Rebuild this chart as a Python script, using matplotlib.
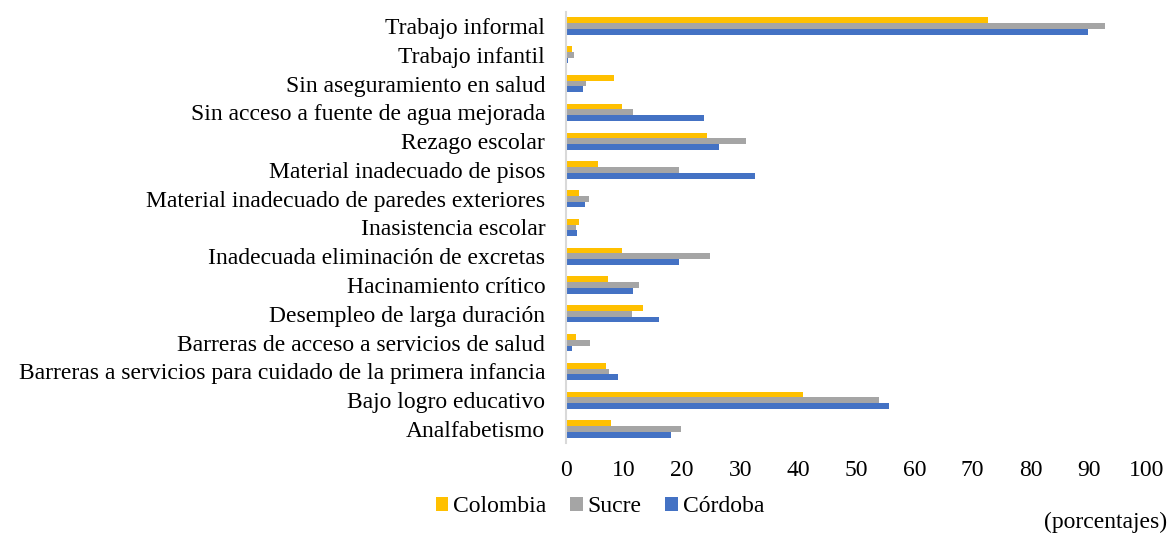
import matplotlib.pyplot as plt
import numpy as np

plt.rcParams['font.family'] = ['Liberation Serif', 'DejaVu Serif']

# Datos (de abajo hacia arriba)
categorias = [
    'Analfabetismo',
    'Bajo logro educativo',
    'Barreras a servicios para cuidado de la primera infancia',
    'Barreras de acceso a servicios de salud',
    'Desempleo de larga duración',
    'Hacinamiento crítico',
    'Inadecuada eliminación de excretas',
    'Inasistencia escolar',
    'Material inadecuado de paredes exteriores',
    'Material inadecuado de pisos',
    'Rezago escolar',
    'Sin acceso a fuente de agua mejorada',
    'Sin aseguramiento en salud',
    'Trabajo infantil',
    'Trabajo informal',
]
colombia = [7.7, 40.8, 6.8, 1.8, 13.3, 7.2, 9.6, 2.2, 2.2, 5.5, 24.3, 9.6, 8.2, 1.1, 72.7]
sucre = [19.8, 53.9, 7.4, 4.1, 11.4, 12.6, 24.8, 1.7, 4.0, 19.4, 31.0, 11.6, 3.4, 1.3, 92.7]
cordoba = [18.0, 55.6, 8.9, 1.1, 16.0, 11.5, 19.4, 1.9, 3.2, 32.6, 26.3, 23.7, 3.0, 0.4, 89.9]
xticks = list(range(0, 101, 10))

COLORS = {'Colombia': '#FFC000', 'Sucre': '#A5A5A5', 'Córdoba': '#4472C4'}
FS = 17

fig = plt.figure(figsize=(11.69, 5.40), dpi=100)
ax = fig.add_axes([566 / 1169, 1 - 443.4 / 540, 581 / 1169, 431.8 / 540])

y = np.arange(len(categorias))
h = 0.2
ax.barh(y + h, colombia, height=h, color=COLORS['Colombia'], label='Colombia')
ax.barh(y, sucre, height=h, color=COLORS['Sucre'], label='Sucre')
ax.barh(y - h, cordoba, height=h, color=COLORS['Córdoba'], label='Córdoba')

ax.set_ylim(-0.5, len(categorias) - 0.5)
ax.set_xlim(0, 100)
ax.set_yticks(y)
ax.set_yticklabels(categorias, fontsize=FS)
ax.set_xticks(xticks)
ax.set_xticklabels([str(t) for t in xticks], fontsize=FS)
ax.tick_params(axis='both', length=0)
ax.tick_params(axis='y', pad=15)
ax.tick_params(axis='x', pad=12)

for s in ['top', 'right', 'bottom']:
    ax.spines[s].set_visible(False)
ax.spines['left'].set_color('#D9D9D9')
ax.spines['left'].set_linewidth(1.5)

fig.legend(loc='center', bbox_to_anchor=(600 / 1169, 1 - 507 / 540), ncol=3,
           frameon=False, fontsize=FS, handlelength=0.55, handleheight=0.55,
           handletextpad=0.2, columnspacing=1.0)

fig.text(0.998, 1 - 522 / 540, '(porcentajes)', ha='right', va='center', fontsize=FS)

fig.savefig('out.png', dpi=100, facecolor='white')
